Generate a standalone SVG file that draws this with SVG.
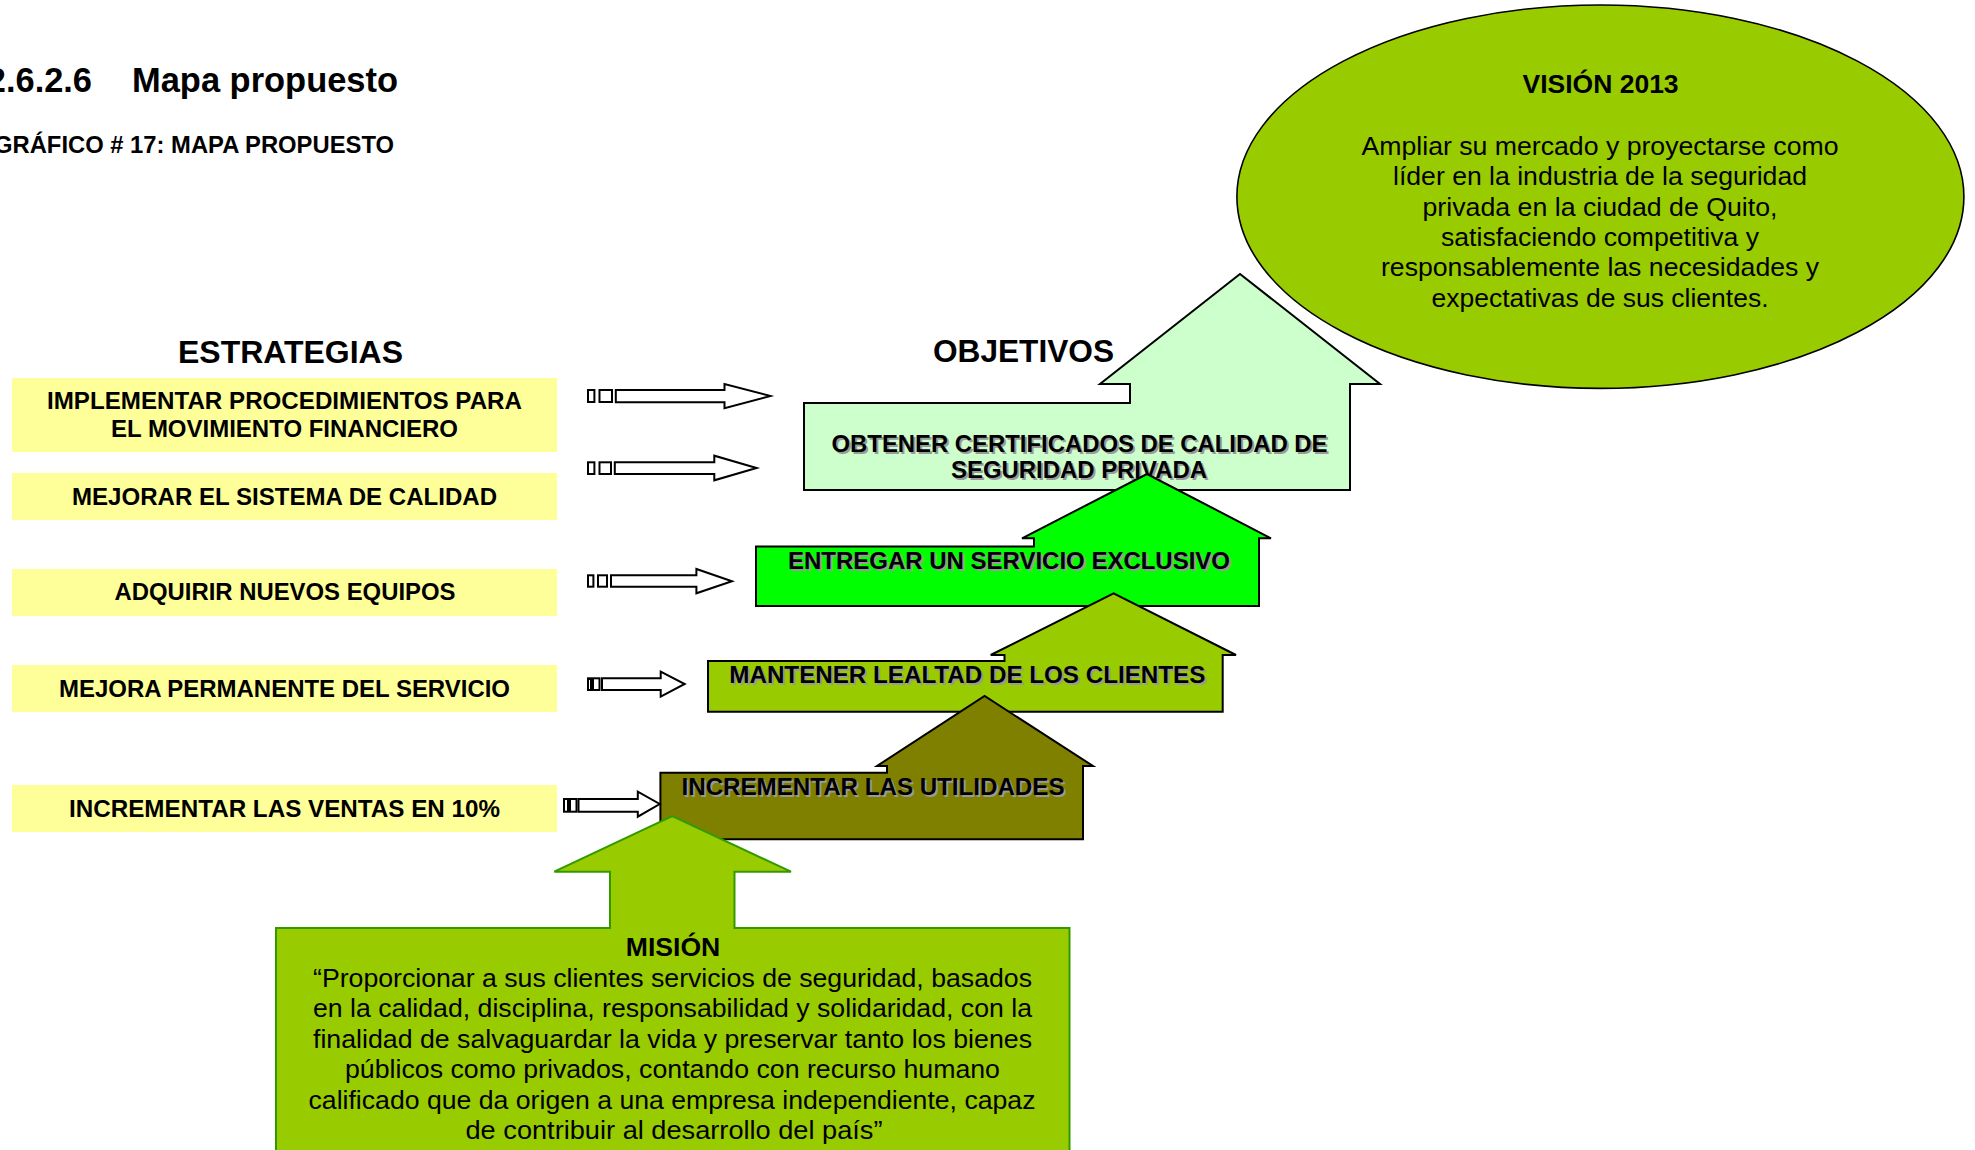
<svg xmlns="http://www.w3.org/2000/svg" width="1975" height="1150" viewBox="0 0 1975 1150">
<defs>
<style>
text{font-family:"Liberation Sans",Arial,sans-serif;fill:#000}
.b{font-weight:bold}
.lbl{font-weight:bold;font-size:24px;text-anchor:middle}
.sh{fill:#9a9a9a}
.body{font-size:26.5px;text-anchor:middle}
.ybox{fill:#FFFF99}
.obj{stroke:#000;stroke-width:2;stroke-linejoin:miter}
.arr{fill:#fff;stroke:#000;stroke-width:2}
</style>
</defs>
<rect width="1975" height="1150" fill="#fff"/>

<g id="title">
<text class="b" x="92" y="92" font-size="34.4" text-anchor="end">2.6.2.6</text>
<text class="b" x="132" y="92" font-size="34.4" textLength="266" lengthAdjust="spacingAndGlyphs">Mapa propuesto</text>
<text class="b" x="-6" y="152.5" font-size="23.5" textLength="400" lengthAdjust="spacingAndGlyphs">GRÁFICO # 17: MAPA PROPUESTO</text>
</g>

<g id="headers">
<text class="b" x="290.5" y="363" font-size="31.5" text-anchor="middle" textLength="225" lengthAdjust="spacingAndGlyphs">ESTRATEGIAS</text>
<text class="b" x="1023.5" y="362" font-size="31.5" text-anchor="middle" textLength="181" lengthAdjust="spacingAndGlyphs">OBJETIVOS</text>
</g>

<g id="vision">
<ellipse cx="1600.4" cy="196.7" rx="363.5" ry="191.7" fill="#99CC00" stroke="#000" stroke-width="1.6"/>
<text class="b" x="1600.6" y="93" font-size="26.5" text-anchor="middle" textLength="156" lengthAdjust="spacingAndGlyphs">VISIÓN 2013</text>
<text class="body" x="1600" y="155" textLength="477" lengthAdjust="spacingAndGlyphs">Ampliar su mercado y proyectarse como</text>
<text class="body" x="1600" y="185.3" textLength="414" lengthAdjust="spacingAndGlyphs">líder en la industria de la seguridad</text>
<text class="body" x="1600" y="215.6" textLength="355" lengthAdjust="spacingAndGlyphs">privada en la ciudad de Quito,</text>
<text class="body" x="1600" y="245.9" textLength="318" lengthAdjust="spacingAndGlyphs">satisfaciendo competitiva y</text>
<text class="body" x="1600" y="276.2" textLength="438" lengthAdjust="spacingAndGlyphs">responsablemente las necesidades y</text>
<text class="body" x="1600" y="306.5" textLength="337" lengthAdjust="spacingAndGlyphs">expectativas de sus clientes.</text>
</g>

<g id="estrategia1">
<rect class="ybox" x="12" y="378" width="545" height="74"/>
<text class="lbl" x="284.5" y="408.6" textLength="475" lengthAdjust="spacingAndGlyphs">IMPLEMENTAR PROCEDIMIENTOS PARA</text>
<text class="lbl" x="284.5" y="437" textLength="347" lengthAdjust="spacingAndGlyphs">EL MOVIMIENTO FINANCIERO</text>
</g>
<g id="estrategia2">
<rect class="ybox" x="12" y="473" width="545" height="47"/>
<text class="lbl" x="284.5" y="504.6" textLength="425" lengthAdjust="spacingAndGlyphs">MEJORAR EL SISTEMA DE CALIDAD</text>
</g>
<g id="estrategia3">
<rect class="ybox" x="12" y="569" width="545" height="47"/>
<text class="lbl" x="285" y="599.8" textLength="341" lengthAdjust="spacingAndGlyphs">ADQUIRIR NUEVOS EQUIPOS</text>
</g>
<g id="estrategia4">
<rect class="ybox" x="12" y="665" width="545" height="47"/>
<text class="lbl" x="284.5" y="697" textLength="451" lengthAdjust="spacingAndGlyphs">MEJORA PERMANENTE DEL SERVICIO</text>
</g>
<g id="estrategia5">
<rect class="ybox" x="12" y="785" width="545" height="47"/>
<text class="lbl" x="284.5" y="817" textLength="431" lengthAdjust="spacingAndGlyphs">INCREMENTAR LAS VENTAS EN 10%</text>
</g>

<g id="objetivo1">
<polygon class="obj" fill="#CCFFCC" points="804,403 1130,403 1130,384 1100,384 1240,274 1380,384 1350,384 1350,490 804,490"/>
<text class="lbl sh" x="1081.5" y="453.7" textLength="496" lengthAdjust="spacingAndGlyphs">OBTENER CERTIFICADOS DE CALIDAD DE</text>
<text class="lbl" x="1079.5" y="451.7" textLength="496" lengthAdjust="spacingAndGlyphs">OBTENER CERTIFICADOS DE CALIDAD DE</text>
<text class="lbl sh" x="1081" y="480.3" textLength="256" lengthAdjust="spacingAndGlyphs">SEGURIDAD PRIVADA</text>
<text class="lbl" x="1079" y="478.3" textLength="256" lengthAdjust="spacingAndGlyphs">SEGURIDAD PRIVADA</text>
</g>
<g id="objetivo2">
<polygon class="obj" fill="#00FF00" points="756,546.5 1034,546.5 1034,538.3 1022,538.3 1147,474 1271,538.3 1259,538.3 1259,606 756,606"/>
<text class="lbl sh" x="1011" y="571" textLength="442" lengthAdjust="spacingAndGlyphs">ENTREGAR UN SERVICIO EXCLUSIVO</text>
<text class="lbl" x="1009" y="569" textLength="442" lengthAdjust="spacingAndGlyphs">ENTREGAR UN SERVICIO EXCLUSIVO</text>
</g>
<g id="objetivo3">
<polygon class="obj" fill="#99CC00" points="708,661 1004.5,661 1004.5,655 990.7,655 1113.6,593.3 1236,655 1222.7,655 1222.7,711.7 708,711.7"/>
<text class="lbl sh" x="969.3" y="685.3" textLength="476" lengthAdjust="spacingAndGlyphs">MANTENER LEALTAD DE LOS CLIENTES</text>
<text class="lbl" x="967.3" y="683.3" textLength="476" lengthAdjust="spacingAndGlyphs">MANTENER LEALTAD DE LOS CLIENTES</text>
</g>
<g id="objetivo4">
<polygon class="obj" fill="#808000" points="660.4,772.7 887,772.7 887,766 877,766 984.6,696 1093,766 1083,766 1083,839.3 660.4,839.3"/>
<text class="lbl sh" x="875" y="797.3" textLength="383" lengthAdjust="spacingAndGlyphs">INCREMENTAR LAS UTILIDADES</text>
<text class="lbl" x="873" y="795.3" textLength="383" lengthAdjust="spacingAndGlyphs">INCREMENTAR LAS UTILIDADES</text>
</g>

<g id="mision">
<polygon fill="#99CC00" stroke="#339900" stroke-width="2" points="276,928 610,928 610,871.7 554.3,871.7 672.3,816 791,871.7 734.5,871.7 734.5,928 1069.5,928 1069.5,1160 276,1160"/>
<text class="b" x="673" y="956" font-size="26.5" text-anchor="middle" textLength="94.5" lengthAdjust="spacingAndGlyphs">MISIÓN</text>
<text class="body" x="672.5" y="986.5" textLength="719" lengthAdjust="spacingAndGlyphs">“Proporcionar a sus clientes servicios de seguridad, basados</text>
<text class="body" x="672.5" y="1017" textLength="719" lengthAdjust="spacingAndGlyphs">en la calidad, disciplina, responsabilidad y solidaridad, con la</text>
<text class="body" x="672.5" y="1047.5" textLength="719" lengthAdjust="spacingAndGlyphs">finalidad de salvaguardar la vida y preservar tanto los bienes</text>
<text class="body" x="672.5" y="1078" textLength="655" lengthAdjust="spacingAndGlyphs">públicos como privados, contando con recurso humano</text>
<text class="body" x="672" y="1108.5" textLength="727" lengthAdjust="spacingAndGlyphs">calificado que da origen a una empresa independiente, capaz</text>
<text class="body" x="674" y="1139" textLength="417" lengthAdjust="spacingAndGlyphs">de contribuir al desarrollo del país”</text>
</g>

<g id="connectors">
<g class="arr">
<rect x="588" y="390" width="6.4" height="12"/><rect x="599.5" y="390" width="12.5" height="12"/>
<polygon points="615.8,390 724.5,390 724.5,384 770.4,396 724.5,408.3 724.5,402.3 615.8,402.3"/>
<rect x="588" y="462.3" width="6.4" height="11.7"/><rect x="599.5" y="462.3" width="11.5" height="11.7"/>
<polygon points="614.8,462.3 714.3,462.3 714.3,455.7 756.6,468 714.3,480.3 714.3,474 614.8,474"/>
<rect x="588" y="575.3" width="5.4" height="11.4"/><rect x="598" y="575.3" width="9" height="11.4"/>
<polygon points="611,575.3 696.4,575.3 696.4,569 732,581.3 696.4,593.3 696.4,586.7 611,586.7"/>
<rect x="588" y="678.3" width="3" height="11.7"/><rect x="593" y="678.3" width="6.5" height="11.7"/>
<polygon points="602,678.3 660.7,678.3 660.7,671.7 684.7,684 660.7,696.7 660.7,690 602,690"/>
<rect x="564" y="799" width="4" height="12.7"/><rect x="570" y="799" width="6.5" height="12.7"/>
<polygon points="578.5,799 637.8,799 637.8,791.7 659.7,804 637.8,816.7 637.8,811.7 578.5,811.7"/>
</g>
</g>
</svg>
